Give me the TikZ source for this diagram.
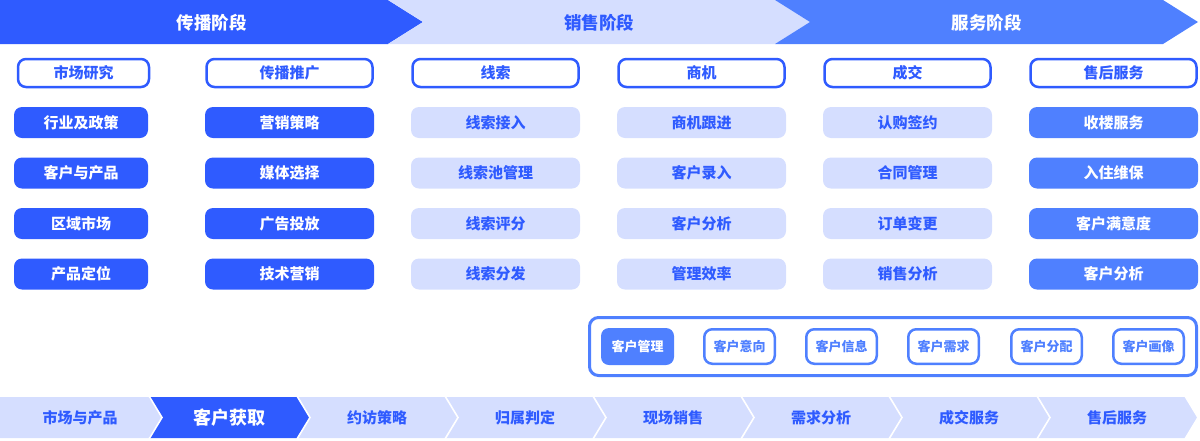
\documentclass[tikz,border=0pt]{standalone}
\usepackage{fontspec}
\setmainfont{Noto Sans CJK SC}
\definecolor{dk}{HTML}{2F5BFF}
\definecolor{md}{HTML}{4F80FF}
\definecolor{lt}{HTML}{D5DEFF}
\begin{document}
\begin{tikzpicture}[x=1pt,y=-1pt,
  bantext/.style={font=\bfseries\fontsize{17.5}{17.5}\selectfont, inner sep=0pt},
  hdrbox/.style={draw=dk, line width=2.5pt, fill=white, rounded corners=8pt, minimum height=28pt, text=dk, font=\bfseries\fontsize{15}{15}\selectfont, inner sep=0pt},
  cellbox/.style={rounded corners=8pt, minimum height=31pt, font=\bfseries\fontsize{15}{15}\selectfont, inner sep=0pt},
  dkcell/.style={cellbox, fill=dk, text=white},
  ltcell/.style={cellbox, fill=lt, text=dk},
  mdcell/.style={cellbox, fill=md, text=white},
  pbox/.style={draw=md, line width=2.5pt, fill=white, rounded corners=8pt, minimum width=70.5pt, minimum height=34.5pt, text=md, font=\bfseries\fontsize{13}{13}\selectfont, inner sep=0pt},
  striptext/.style={font=\bfseries\fontsize{15}{15}\selectfont, text=dk, inner sep=0pt}
]
\useasboundingbox (0,0) rectangle (1200,440);
% top banner
\fill[dk] (0,0) -- (388,0) -- (423,22) -- (388,44) -- (0,44) -- cycle;
\fill[lt] (388,0) -- (775,0) -- (810,22) -- (775,44) -- (388,44) -- (423,22) -- cycle;
\fill[md] (775,0) -- (1163,0) -- (1198,22) -- (1163,44) -- (775,44) -- (810,22) -- cycle;
\node[bantext, text=white] (b1) at (211.5,22.5) {传播阶段};
\node[bantext, text=dk] (b2) at (599,22.5) {销售阶段};
\node[bantext, text=white] (b3) at (986.5,22.5) {服务阶段};
% headers
\node[hdrbox, minimum width=131pt] (h1) at (83.5,73) {市场研究};
\node[hdrbox, minimum width=166pt] (h2) at (289.5,73) {传播推广};
\node[hdrbox, minimum width=166pt] (h3) at (495.5,73) {线索};
\node[hdrbox, minimum width=166pt] (h4) at (701.5,73) {商机};
\node[hdrbox, minimum width=166pt] (h5) at (907.5,73) {成交};
\node[hdrbox, minimum width=166pt] (h6) at (1113.5,73) {售后服务};
% column 1
\node[dkcell, minimum width=134pt] (c11) at (81,122.5) {行业及政策};
\node[dkcell, minimum width=134pt] (c12) at (81,173) {客户与产品};
\node[dkcell, minimum width=134pt] (c13) at (81,223.5) {区域市场};
\node[dkcell, minimum width=134pt] (c14) at (81,274) {产品定位};
% column 2
\node[dkcell, minimum width=169pt] (c21) at (289.5,122.5) {营销策略};
\node[dkcell, minimum width=169pt] (c22) at (289.5,173) {媒体选择};
\node[dkcell, minimum width=169pt] (c23) at (289.5,223.5) {广告投放};
\node[dkcell, minimum width=169pt] (c24) at (289.5,274) {技术营销};
% column 3
\node[ltcell, minimum width=169pt] (c31) at (495.5,122.5) {线索接入};
\node[ltcell, minimum width=169pt] (c32) at (495.5,173) {线索池管理};
\node[ltcell, minimum width=169pt] (c33) at (495.5,223.5) {线索评分};
\node[ltcell, minimum width=169pt] (c34) at (495.5,274) {线索分发};
% column 4
\node[ltcell, minimum width=169pt] (c41) at (701.5,122.5) {商机跟进};
\node[ltcell, minimum width=169pt] (c42) at (701.5,173) {客户录入};
\node[ltcell, minimum width=169pt] (c43) at (701.5,223.5) {客户分析};
\node[ltcell, minimum width=169pt] (c44) at (701.5,274) {管理效率};
% column 5
\node[ltcell, minimum width=169pt] (c51) at (907.5,122.5) {认购签约};
\node[ltcell, minimum width=169pt] (c52) at (907.5,173) {合同管理};
\node[ltcell, minimum width=169pt] (c53) at (907.5,223.5) {订单变更};
\node[ltcell, minimum width=169pt] (c54) at (907.5,274) {销售分析};
% column 6
\node[mdcell, minimum width=169pt] (c61) at (1113.5,122.5) {收楼服务};
\node[mdcell, minimum width=169pt] (c62) at (1113.5,173) {入住维保};
\node[mdcell, minimum width=169pt] (c63) at (1113.5,223.5) {客户满意度};
\node[mdcell, minimum width=169pt] (c64) at (1113.5,274) {客户分析};
% customer panel
\node[draw=md, line width=3pt, rounded corners=9pt, minimum width=607pt, minimum height=58pt] (panel) at (893,346.5) {};
\node[fill=md, text=white, rounded corners=8pt, minimum width=73pt, minimum height=37pt, font=\bfseries\fontsize{13}{13}\selectfont, inner sep=0pt] (p1) at (637.5,346.5) {客户管理};
\node[pbox] (p2) at (739.5,346.5) {客户意向};
\node[pbox] (p3) at (841.5,346.5) {客户信息};
\node[pbox] (p4) at (943.5,346.5) {客户需求};
\node[pbox] (p5) at (1046.5,346.5) {客户分配};
\node[pbox] (p6) at (1148.5,346.5) {客户画像};
% bottom strip
\fill[lt] (0,397) -- (149,397) -- (162,417.5) -- (149,438) -- (0,438) -- cycle;
\foreach \s/\c in {149/dk,297/lt,445/lt,593/lt,741/lt,889/lt,1037/lt}{
  \fill[\c] (\s,397) -- ({\s+148},397) -- ({\s+161},417.5) -- ({\s+148},438) -- (\s,438) -- ({\s+13},417.5) -- cycle;
}
\foreach \s in {149,297,445,593,741,889,1037,1185}{
  \draw[white, line width=1.6pt] (\s,396) -- ({\s+13},417.5) -- (\s,439);
}
\node[striptext] (s1) at (80,417.5) {市场与产品};
\node[striptext, text=white, font=\bfseries\fontsize{18}{18}\selectfont] (s2) at (229,417.5) {客户获取};
\node[striptext] (s3) at (377,417.5) {约访策略};
\node[striptext] (s4) at (525,417.5) {归属判定};
\node[striptext] (s5) at (673,417.5) {现场销售};
\node[striptext] (s6) at (821,417.5) {需求分析};
\node[striptext] (s7) at (969,417.5) {成交服务};
\node[striptext] (s8) at (1117,417.5) {售后服务};
\end{tikzpicture}
\end{document}
